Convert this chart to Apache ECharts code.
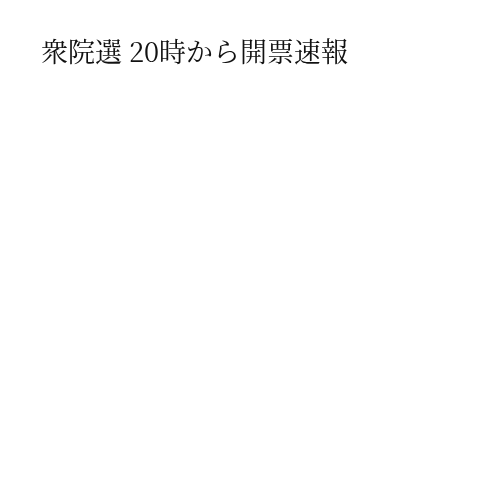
<!DOCTYPE html>
<html>
<head>
<meta charset="utf-8">
<script src="https://cdn.jsdelivr.net/npm/echarts@6/dist/echarts.min.js"></script>
<style>
  html, body { margin: 0; padding: 0; background: #fff; }
  #chart { width: 500px; height: 500px; }
</style>
</head>
<body>
<div id="chart"></div>
<script>
// タイトルのみ（データ系列なし）
const titleText = '衆院選 20時から開票速報'
const categories = []
const values = []

const chart = echarts.init(document.getElementById('chart'))
chart.setOption({
  backgroundColor: '#ffffff',
  animation: false,
  title: {
    text: titleText,
    left: 36,
    top: 33,
    textStyle: {
      fontFamily: '"Noto Serif CJK JP", "Noto Sans CJK JP", serif',
      fontSize: 27,
      fontWeight: 'normal',
      color: '#111111',
    },
  },
  xAxis: { type: 'category', data: categories, show: false },
  yAxis: { type: 'value', show: false },
  series: [{ type: 'bar', data: values }],
})
</script>
</body>
</html>
